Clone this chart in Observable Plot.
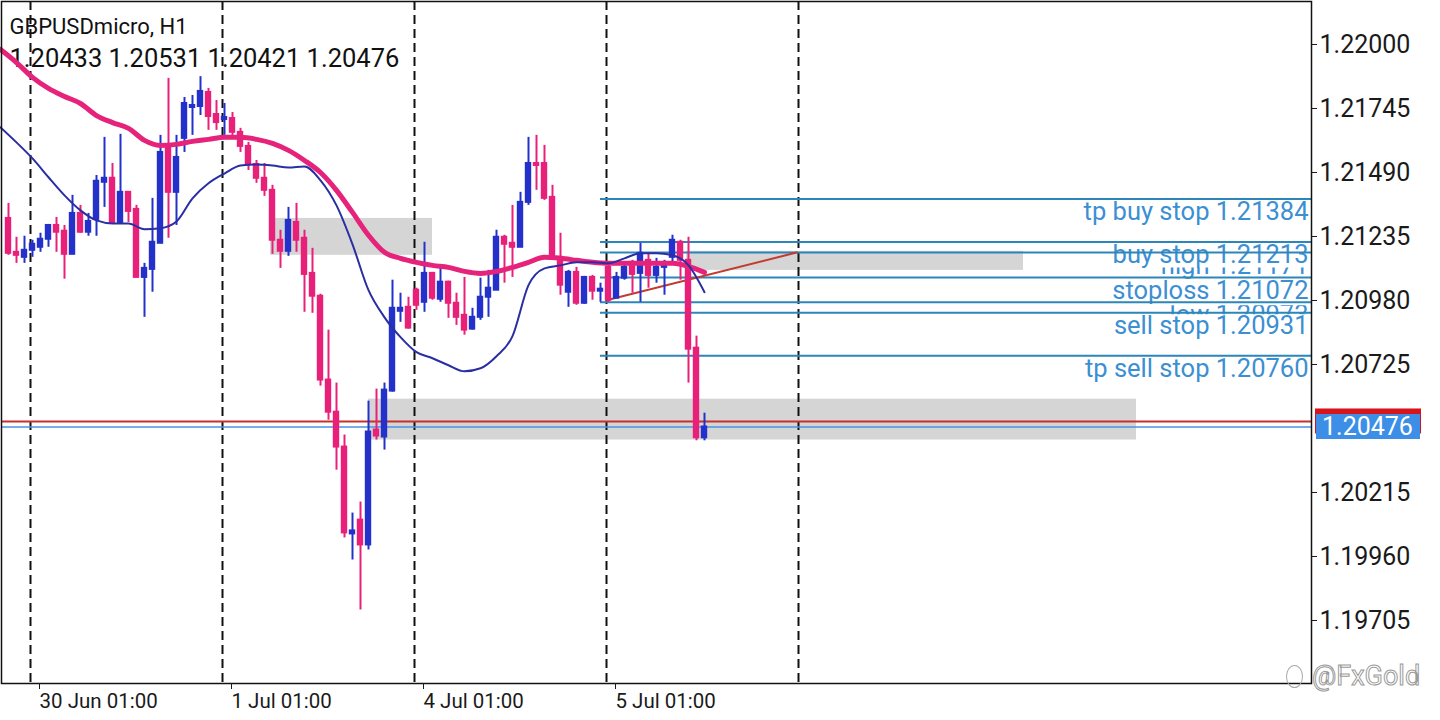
<!DOCTYPE html>
<html><head><meta charset="utf-8">
<script src="https://cdn.jsdelivr.net/npm/d3@7"></script>
<script src="https://cdn.jsdelivr.net/npm/@observablehq/plot@0.6"></script>
<style>
html,body{margin:0;padding:0;background:#fff;}
#wrap{position:relative;width:1440px;height:720px;overflow:hidden;font-family:Roboto,sans-serif;}
#wm{position:absolute;left:1286px;top:660px;font-size:27px;color:#fff;-webkit-text-stroke:1px #9a9a9a;font-family:Roboto,sans-serif;white-space:nowrap;}
#wm .ic{display:inline-block;width:15px;height:21px;border:1.5px solid #aaa;border-radius:50%;vertical-align:-3px;margin-right:9px;}
</style></head><body><div id="wrap"><div id="wm"><span class="ic"></span>@FxGold</div></div>
<script>
// ---- header ----
const symbolTitle = "GBPUSDmicro, H1";

// ---- candles (H1), index 0 = 30 Jun 00:00 ----
const firstIndex = -3;
const opens = [1.21307,1.21172,1.21152,1.21180,1.21192,1.21224,1.21279,1.21256,1.21164,1.21327,1.21252,1.21303,1.21451,1.21467,1.21291,1.21411,1.21343,1.21072,1.21104,1.21208,1.21590,1.21411,1.21626,1.21749,1.21753,1.21809,1.21721,1.21701,1.21705,1.21650,1.21594,1.21522,1.21467,1.21419,1.21220,1.21176,1.21291,1.21228,1.21088,1.20997,1.20663,1.20535,1.20396,1.20050,1.20105,1.20006,1.20464,1.20436,1.20619,1.20937,1.20953,1.21021,1.20973,1.21088,1.20985,1.21053,1.20969,1.20921,1.20866,1.20913,1.20993,1.21021,1.21232,1.21208,1.21192,1.21371,1.21526,1.21526,1.21391,1.21152,1.21013,1.21092,1.20969,1.21072,1.21017,1.21112,1.20989,1.21069,1.21132,1.21088,1.21140,1.21080,1.21112,1.21152,1.21212,1.21140,1.20790,1.20433];
const highs = [1.21367,1.21232,1.21236,1.21220,1.21248,1.21283,1.21311,1.21279,1.21399,1.21359,1.21327,1.21478,1.21630,1.21526,1.21642,1.21413,1.21359,1.21128,1.21387,1.21638,1.21865,1.21638,1.21789,1.21797,1.21872,1.21825,1.21777,1.21765,1.21729,1.21666,1.21610,1.21538,1.21526,1.21439,1.21260,1.21351,1.21367,1.21260,1.21188,1.21005,1.20862,1.20651,1.20444,1.20133,1.20177,1.20579,1.20627,1.20651,1.21061,1.21009,1.20993,1.21029,1.21212,1.21092,1.21112,1.21057,1.21009,1.21072,1.20949,1.21069,1.21100,1.21260,1.21240,1.21359,1.21411,1.21630,1.21638,1.21598,1.21439,1.21248,1.21100,1.21112,1.21076,1.21080,1.21049,1.21128,1.21092,1.21132,1.21140,1.21208,1.21168,1.21148,1.21140,1.21240,1.21220,1.21232,1.20838,1.20531];
const lows = [1.21160,1.21128,1.21128,1.21152,1.21172,1.21192,1.21172,1.21065,1.21164,1.21248,1.21236,1.21236,1.21351,1.21283,1.21283,1.21291,1.21070,1.20913,1.21013,1.21206,1.21228,1.21279,1.21570,1.21638,1.21717,1.21658,1.21658,1.21638,1.21630,1.21570,1.21498,1.21447,1.21395,1.21164,1.21108,1.21156,1.21172,1.20933,1.20929,1.20639,1.20503,1.20304,1.20034,1.19946,1.19747,1.19986,1.20424,1.20384,1.20615,1.20893,1.20866,1.20941,1.20933,1.20981,1.20973,1.20909,1.20881,1.20842,1.20862,1.20901,1.20913,1.21021,1.21049,1.21072,1.21192,1.21359,1.21419,1.21379,1.21140,1.21001,1.20953,1.20961,1.20965,1.20981,1.20973,1.20973,1.20989,1.21061,1.21009,1.20973,1.21029,1.21049,1.21001,1.21128,1.21061,1.20651,1.20421,1.20421];
const closes = [1.21168,1.21160,1.21180,1.21204,1.21224,1.21279,1.21252,1.21164,1.21327,1.21252,1.21295,1.21455,1.21467,1.21287,1.21411,1.21335,1.21072,1.21108,1.21212,1.21570,1.21411,1.21550,1.21765,1.21757,1.21813,1.21713,1.21689,1.21709,1.21650,1.21594,1.21522,1.21467,1.21419,1.21220,1.21176,1.21299,1.21220,1.21084,1.20997,1.20663,1.20535,1.20396,1.20054,1.20062,1.20006,1.20456,1.20440,1.20623,1.20949,1.20949,1.20870,1.20961,1.21088,1.20989,1.21053,1.20969,1.20913,1.20862,1.20913,1.20993,1.21029,1.21232,1.21204,1.21192,1.21371,1.21526,1.21518,1.21387,1.21148,1.21041,1.21092,1.20969,1.21072,1.21017,1.21025,1.20981,1.21072,1.21112,1.21084,1.21168,1.21080,1.21112,1.21128,1.21220,1.21140,1.20786,1.20433,1.20476];

// ---- moving averages, read every 2 bars ----
const maIndex = [-4,-2,0,2,4,6,8,10,12,14,16,18,20,22,24,26,28,30,32,34,36,38,40,42,44,46,48,50,52,54,56,58,60,62,64,66,68,70,72,74,76,78,80,82,84];
const maSlow = [1.21980,1.21928,1.21869,1.21825,1.21793,1.21765,1.21717,1.21689,1.21666,1.21618,1.21598,1.21602,1.21614,1.21622,1.21630,1.21630,1.21622,1.21606,1.21578,1.21538,1.21490,1.21419,1.21331,1.21240,1.21172,1.21148,1.21132,1.21120,1.21112,1.21096,1.21088,1.21096,1.21112,1.21132,1.21152,1.21148,1.21140,1.21132,1.21128,1.21128,1.21128,1.21128,1.21128,1.21116,1.21092];
const maFast = [1.21670,1.21610,1.21546,1.21471,1.21399,1.21339,1.21299,1.21287,1.21287,1.21264,1.21268,1.21295,1.21387,1.21447,1.21486,1.21518,1.21522,1.21518,1.21510,1.21514,1.21459,1.21359,1.21204,1.21021,1.20913,1.20834,1.20774,1.20750,1.20722,1.20698,1.20710,1.20758,1.20838,1.21041,1.21108,1.21120,1.21132,1.21132,1.21128,1.21148,1.21168,1.21168,1.21160,1.21120,1.21013];

// ---- pending order lines ----
const orderStart = 71;
const orderLabels = ["tp buy stop","buy stop","stoploss","sell stop","tp sell stop"];
const orderPrices = [1.21384,1.21213,1.21072,1.20931,1.20760];
const levelLabels = ["high","low"];
const levelPrices = [1.21171,1.20973];

// ---- zones ----
const zoneStart = [29.75, 81.75, 42];
const zoneEnd = [50, 123.875, 138];
const zoneLow = [1.21160, 1.21100, 1.20424];
const zoneHigh = [1.21307, 1.21176, 1.20587];

// ---- trend line ----
const trendIndex = [71.75, 95.625];
const trendPrice = [1.20981, 1.21172];

// ---- price lines ----
const bidPrice = 1.20476;
const askPrice = 1.20498;

// ---- axes ----
const separators = [-0.25, 23.75, 47.75, 71.75, 95.75];
const xTicks = [0.75, 24.75, 48.75, 72.75];
const xTickLabels = ["30 Jun 01:00", "1 Jul 01:00", "4 Jul 01:00", "5 Jul 01:00"];
const yTicks = [1.22000, 1.21745, 1.21490, 1.21235, 1.20980, 1.20725, 1.20215, 1.19960, 1.19705];

// ---- build tables ----
const candles = opens.map((o, k) => ({i: firstIndex + k, open: o, high: highs[k], low: lows[k], close: closes[k]}));
const last = candles[candles.length - 1];
const ohlcText = [last.open, last.high, last.low, last.close].map(v => v.toFixed(5)).join(" ");
const slow = maIndex.map((i, k) => ({i, v: maSlow[k]}));
const fast = maIndex.map((i, k) => ({i, v: maFast[k]}));
const orders = orderLabels.map((l, k) => ({label: l, price: orderPrices[k]}));
const levels = levelLabels.map((l, k) => ({label: l, price: levelPrices[k]}));
const zones = zoneStart.map((s, k) => ({x1: s, x2: zoneEnd[k], y1: zoneLow[k], y2: zoneHigh[k]}));
const xLabelOf = new Map(xTicks.map((t, k) => [t, xTickLabels[k]]));

const BULL = "#2330c9", BEAR = "#e8207a";
const LINE = "#2d86b9", LABEL = "#3b8fd2";
const xMin = -3.875, xMax = 159.875;
const isBull = d => d.close >= d.open;
const lbl = d => `${d.label} ${d.price.toFixed(5)}`;

const chart = Plot.plot({
  width: 1440, height: 720,
  marginLeft: 1, marginRight: 129, marginTop: 1, marginBottom: 37,
  style: {fontFamily: "Roboto, sans-serif", background: "#fff", color: "#1a1a1a"},
  x: {domain: [xMin, xMax]},
  y: {domain: [1.1945399, 1.2217133]},
  marks: [
    Plot.rect(zones, {x1: "x1", x2: "x2", y1: "y1", y2: "y2", fill: "#d5d5d5"}),
    Plot.text([symbolTitle], {frameAnchor: "top-left", dx: 8, dy: 17, text: d => d, lineAnchor: "top", textAnchor: "start", fontSize: 22, fill: "#111"}),
    Plot.text([ohlcText], {frameAnchor: "top-left", dx: 8, dy: 47, text: d => d, lineAnchor: "top", textAnchor: "start", fontSize: 25.5, fill: "#111"}),
    Plot.text(orders, {y: "price", text: lbl, frameAnchor: "right", dx: -3, dy: 3, lineAnchor: "top", textAnchor: "end", fontSize: 25.5, fill: LABEL}),
    Plot.text(levels, {y: "price", text: lbl, frameAnchor: "right", dx: -3, dy: 3, lineAnchor: "top", textAnchor: "end", fontSize: 25.5, fill: LABEL}),
    Plot.ruleX(separators, {stroke: "#111", strokeWidth: 2, strokeDasharray: "9,5"}),
    Plot.ruleY(orders.concat(levels), {y: "price", x1: orderStart, x2: xMax, stroke: LINE, strokeWidth: 2}),
    Plot.ruleY([askPrice], {stroke: "#c8302c", strokeWidth: 2}),
    Plot.ruleY([bidPrice], {stroke: "#4a92e0", strokeWidth: 1.6}),
    Plot.link([0], {x1: () => trendIndex[0], y1: () => trendPrice[0], x2: () => trendIndex[1], y2: () => trendPrice[1], stroke: "#c23a30", strokeWidth: 2}),
    Plot.ruleX(candles, {filter: isBull, x: "i", y1: "low", y2: "high", stroke: BULL, strokeWidth: 2}),
    Plot.ruleX(candles, {filter: d => !isBull(d), x: "i", y1: "low", y2: "high", stroke: BEAR, strokeWidth: 2}),
    Plot.rect(candles, {filter: isBull, x1: d => d.i - 0.4, x2: d => d.i + 0.4, y1: "open", y2: "close", fill: BULL, insetTop: -1, insetBottom: -1}),
    Plot.rect(candles, {filter: d => !isBull(d), x1: d => d.i - 0.4, x2: d => d.i + 0.4, y1: "open", y2: "close", fill: BEAR, insetTop: -1, insetBottom: -1}),
    Plot.line(slow, {x: "i", y: "v", stroke: "#e6237b", strokeWidth: 5, curve: "monotone-x"}),
    Plot.line(fast, {x: "i", y: "v", stroke: "#2a2ea3", strokeWidth: 2, curve: "monotone-x"}),
    Plot.frame({stroke: "#111", strokeWidth: 1.5}),
    Plot.axisY(yTicks, {anchor: "right", tickSize: 5, tickPadding: 3, fontSize: 25, tickFormat: d => d.toFixed(5)}),
    Plot.axisX(xTicks, {anchor: "bottom", tickSize: 6, tickPadding: 4, fontSize: 20.5, textAnchor: "start", dx: 1, tickFormat: d => xLabelOf.get(d)})
  ]
});

// clip the partially hidden level labels, and add the bid/ask price badges
const yS = chart.scale("y");
const svg = d3.select(chart);
const defs = svg.append("defs");
const yHigh = yS.apply(levelPrices[0]), yLow = yS.apply(levelPrices[1]);
defs.append("clipPath").attr("id", "clipHigh").attr("clipPathUnits", "userSpaceOnUse")
  .append("rect").attr("x", 0).attr("width", 1440).attr("y", yHigh + 12).attr("height", 20);
defs.append("clipPath").attr("id", "clipLow").attr("clipPathUnits", "userSpaceOnUse")
  .append("rect").attr("x", 0).attr("width", 1440).attr("y", yLow).attr("height", 9);
const levelText = {};
levels.forEach(l => { levelText[lbl(l)] = l.label; });
svg.selectAll("text").each(function() {
  const which = levelText[this.textContent];
  if (which) {
    const wrapG = d3.select(this.parentNode).insert("g", () => this).attr("clip-path", which === "high" ? "url(#clipHigh)" : "url(#clipLow)");
    wrapG.node().appendChild(this);
  }
});

const badge = svg.append("g").attr("text-anchor", "start");
const yA = yS.apply(askPrice), yB = yS.apply(bidPrice);
badge.append("rect").attr("x", 1315).attr("y", yA - 12.5).attr("width", 106).attr("height", 25).attr("fill", "#d7141a");
badge.append("rect").attr("x", 1316).attr("y", yB - 12.5).attr("width", 104).attr("height", 25).attr("fill", "#3d8ee6");
badge.append("text").attr("x", 1322).attr("y", yB).attr("dy", "0.36em").attr("fill", "#fff").attr("font-size", 25).attr("text-anchor", "start").attr("font-family", "Roboto, sans-serif").text(bidPrice.toFixed(5));

document.getElementById("wrap").prepend(chart);
</script></body></html>
